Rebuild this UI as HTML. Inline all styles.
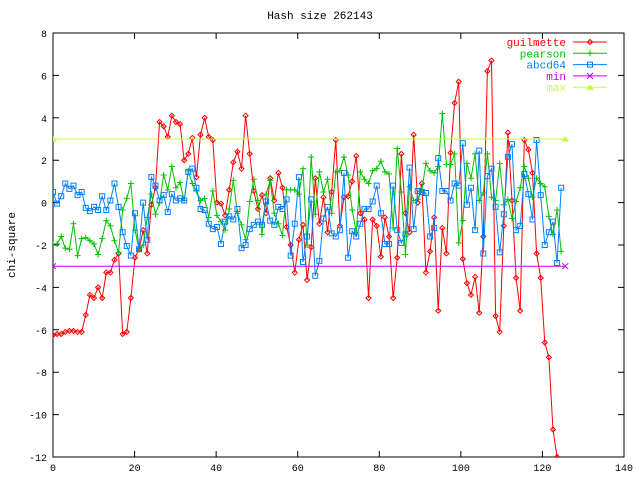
<!DOCTYPE html>
<html><head><meta charset="utf-8"><style>
html,body{margin:0;padding:0;background:#fff;}
svg{display:block;font-family:"Liberation Mono","DejaVu Sans Mono",monospace;}
</style></head><body>
<svg id="chart" width="640" height="480" xmlns="http://www.w3.org/2000/svg">
<rect width="640" height="480" fill="#fff"/>
<text x="320" y="19" font-size="11" text-anchor="middle">Hash size 262143</text>
<text x="15" y="245" font-size="11" text-anchor="middle" transform="rotate(-90 15 245)">chi-square</text>
<g id="axes"></g>
<g id="series" clip-path="url(#clip)"></g>
<defs><clipPath id="clip"><rect x="53" y="33" width="571" height="424"/></clipPath></defs>
<g id="legend"></g>
</svg>
<script>
const xTicks=[0,20,40,60,80,100,120,140];
const yTicks=[8,6,4,2,0,-2,-4,-6,-8,-10,-12];
const guilmette=[-6.25,-6.2,-6.2,-6.1,-6.05,-6.05,-6.1,-6.1,-5.3,-4.35,-4.5,-4,-4.5,-3.3,-3.3,-2.7,-2.4,-6.2,-6.1,-4.5,-2.6,-2.2,-1.3,-2.4,-0.1,0.7,3.8,3.6,3.1,4.1,3.8,3.7,2.0,2.3,3.05,1.2,3.2,4.0,3.1,2.95,0,-0.05,-0.6,0.6,1.9,2.4,1.6,4.1,2.3,0.55,-0.3,0.35,-0.5,1.15,0.1,1.4,0.7,-1.15,-2.0,-3.3,-1.75,-1.05,-3.65,-2.1,1.15,-1.0,0.25,-1.4,0.5,2.95,-1.1,0.25,0.3,1.0,2.2,-0.5,-0.8,-4.5,-0.8,-1.1,-2.55,-0.7,-1.6,-4.5,-2.6,2.3,-0.5,-1.4,3.2,0.0,0.9,-3.3,-2.3,-0.7,-5.1,-1.2,-2.4,2.35,4.7,5.7,-2.66,-3.8,-4.35,-3.5,-5.2,-1.6,6.2,6.7,-5.35,-6.1,-1.1,3.3,0.1,-3.55,-5.1,2.95,2.5,1.4,-2.4,-3.55,-6.6,-7.3,-10.7,-12,-12.5];
const pearson=[-1.95,-1.95,-1.6,-2.15,-2.2,-1.0,-2.5,-1.7,-1.65,-1.8,-1.95,-2.45,-1.7,-0.85,-1.1,-1.8,-2.35,-0.35,0.2,0.9,-1.3,-2.2,-2.0,-0.7,0.4,-0.55,0,1.3,0.6,1.7,0.7,0.95,0.1,1.5,0.9,0.55,0.1,0.2,-0.7,0.55,-0.6,-0.9,-1.3,-0.3,1.05,-0.5,-1.05,-1.75,0.05,1.1,0.1,-1.5,0.4,1.05,-0.5,-1.0,-1.55,0.6,0.6,0.6,0.4,1.6,-2.0,2.15,-0.55,1.45,0.5,1.1,-0.5,1.45,1.5,2.15,1.3,-0.35,-1.4,1.45,1.1,0.9,1.5,1.6,1.95,1.45,1.35,-1.2,2.55,0.5,-2.45,0.75,0.1,0.15,0.6,1.85,1.5,1.4,1.7,4.2,1.8,1.8,2.3,-1.9,-0.85,1.85,1.15,2.3,0.1,0.45,2.3,0.25,0.1,1.85,-0.1,0.15,-0.75,0.05,0.7,1.7,1.15,0.25,1.15,0.9,0.75,-0.65,-1.5,-0.35,-2.3];
const abcd64=[0.5,-0.05,0.3,0.9,0.65,0.8,0.35,0.5,-0.25,-0.4,-0.2,-0.35,0.3,-0.35,0.1,0.9,-0.2,-1.4,-2.05,-2.5,-0.5,-2.2,0,-1.75,1.2,0.8,0.1,0.35,-0.45,0.4,0.1,0.2,0.1,1.45,1.6,0.7,-0.3,-0.35,-1.0,-1.25,-1.15,-1.95,-0.9,-0.65,-0.8,-0.3,-2.15,-2.0,-1.25,-1.05,-0.9,-1.05,0.05,-0.85,-1.05,-0.2,-0.3,0.15,-2.5,-1.0,1.2,-2.8,-1.6,0.15,-3.45,-2.75,-0.75,-0.2,-1.45,-1.6,-1.3,1.4,-2.6,-1.35,-1.6,-1.0,-0.3,-0.3,0.05,0.8,-0.5,-1.95,-1.95,0.8,-1.3,-1.9,-1.5,1.65,-1.25,0.55,0.5,0.45,-1.6,-1.2,2.1,0.55,0.55,0.1,0.9,0.8,2.8,-0.1,0.7,-1.3,2.45,-2.4,1.25,1.6,-0.2,-2.35,-0.55,2.15,2.75,-1.3,-1.1,1.35,0.4,-0.8,2.95,0.35,-2.0,-1.4,-0.9,-2.85,0.7];
const minVal=-3, maxVal=3, lastX=125;
const NS="http://www.w3.org/2000/svg";
const X0=53,X1=624,Y0=33,Y1=457,XMIN=0,XMAX=140,YMIN=-12,YMAX=8,X_OFF=0.6;
function sx(v){return X0+(v-XMIN)/(XMAX-XMIN)*(X1-X0);}
function sxi(i){return sx(i*(1+X_OFF/125));}
function sy(v){return Y1-(v-YMIN)/(YMAX-YMIN)*(Y1-Y0);}
function mk(tag,attrs,parent){const e=document.createElementNS(NS,tag);for(const k in attrs)e.setAttribute(k,attrs[k]);parent.appendChild(e);return e;}
const axes=document.getElementById('axes');
const frame=mk('rect',{x:X0,y:Y0,width:X1-X0,height:Y1-Y0,fill:'none',stroke:'#000','stroke-width':1},axes);


xTicks.forEach(t=>{const x=sx(t);
 const a=mk('path',{d:`M${x} ${Y1}v-6M${x} ${Y0}v6`,stroke:'#000'},axes);
 
 
 const l=mk('text',{x:x,y:Y1+14,'font-size':10,'text-anchor':'middle'},axes);l.textContent=t;
 
 });
yTicks.forEach(t=>{const y=sy(t);
 const a=mk('path',{d:`M${X0} ${y}h6M${X1} ${y}h-6`,stroke:'#000'},axes);
 
 
 const l=mk('text',{x:X0-6,y:y+4,'font-size':10,'text-anchor':'end'},axes);l.textContent=t;
 
 });
const sg=document.getElementById('series');
function marker(type,x,y,c,g){let d;
 if(type==='diamond')d=`M${x} ${y-2.5}l2.5 2.5l-2.5 2.5l-2.5-2.5z`;
 else if(type==='plus')d=`M${x-3} ${y}h6M${x} ${y-3}v6`;
 else if(type==='square')d=`M${x-2.5} ${y-2.5}h5v5h-5z`;
 else if(type==='cross')d=`M${x-3} ${y-3}l6 6M${x+3} ${y-3}l-6 6`;
 else d=`M${x-3} ${y+2}l3-4l3 4z`;
 const m=mk('path',{d:d,stroke:c,fill:type==='tri'?c:'none','stroke-width':1},g);
 
 }
function series(name,vals,color,type){
 const g=mk('g',{},sg);
 
 
 const pts=vals.map((v,i)=>[sxi(i),sy(v)]);
 const p=mk('polyline',{points:pts.map(q=>q.join(',')).join(' '),fill:'none',stroke:color,'stroke-width':1},g);
 
 
 pts.forEach(q=>marker(type,q[0],q[1],color,g));}
series('guilmette',guilmette,'#ff0000','diamond');
series('pearson',pearson,'#00c000','plus');
series('abcd64',abcd64,'#0080ff','square');
function hline(name,v,color,type){
 const g=mk('g',{},sg);
 
 
 mk('line',{x1:sx(0),x2:sxi(lastX),y1:sy(v),y2:sy(v),stroke:color,'stroke-width':1},g);
 marker(type,sx(0),sy(v),color,g);marker(type,sxi(lastX),sy(v),color,g);}
hline('min',minVal,'#c000ff','cross');
hline('max',maxVal,'#c0ff40','tri');
const lg=document.getElementById('legend');
[['guilmette','#ff0000','diamond'],['pearson','#00c000','plus'],['abcd64','#0080ff','square'],['min','#c000ff','cross'],['max','#c0ff40','tri']].forEach((e,k)=>{
 const y=42+k*11.3;
 const g=mk('g',{},lg);
 
 
 const t=mk('text',{x:566,y:y+4,'font-size':11,'text-anchor':'end',fill:e[1]},g);t.textContent=e[0];
 mk('line',{x1:573,x2:607,y1:y,y2:y,stroke:e[1]},g);
 marker(e[2],590,y,e[1],g);});
</script>
</body></html>
